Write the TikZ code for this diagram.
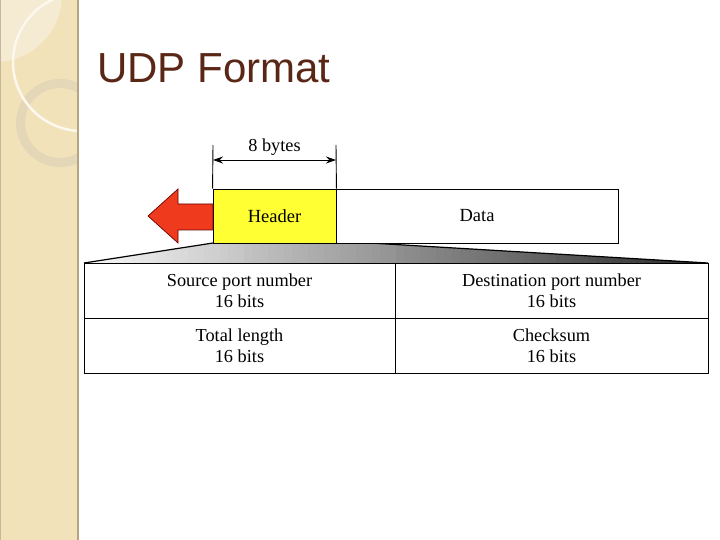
\documentclass[tikz,border=0pt]{standalone}
\usepackage{fontspec}
\setmainfont{Liberation Serif}
\newfontfamily\titlefont{Liberation Sans}
\usetikzlibrary{arrows.meta}
\definecolor{band}{HTML}{F2E2BA}
\definecolor{bandlight}{HTML}{F5EAD2}
\definecolor{bandedge}{HTML}{B5A582}
\definecolor{ringc}{HTML}{E4D7B8}
\definecolor{titlec}{HTML}{5A2616}
\definecolor{hdryellow}{HTML}{FFFF33}
\definecolor{arrowred}{HTML}{F03A1E}
\tikzset{
  cell/.style={draw=black, line width=0.9pt, minimum width=311pt, minimum height=55pt, inner sep=0pt, align=center, font=\fontsize{18.3}{21}\selectfont},
  segbox/.style={draw=black, line width=0.9pt, minimum height=54pt, inner sep=0pt, font=\fontsize{18.5}{21}\selectfont},
  dimline/.style={line width=0.9pt},
}
\begin{document}
\begin{tikzpicture}[x=1pt,y=-1pt]
\useasboundingbox (0,0) rectangle (720,540);
\fill[white] (0,0) rectangle (720,540);
% left band
\begin{scope}
\clip (0,0) rectangle (78,540);
\fill[band] (0,0) rectangle (78,540);
\fill[bandlight] (-5,-5) circle (67);
\draw[ringc, line width=9pt] (60,123) circle (39.5);
\draw[white!75!band, line width=2.5pt] (82,62) circle (69);
\end{scope}
\draw[bandedge, line width=1.5pt] (78,0) -- (78,540);
\draw[bandedge!80, line width=1pt] (0.5,0) -- (0.5,540);
% title
\node[anchor=base west, text=titlec, font=\titlefont\fontsize{42}{48}\selectfont, inner sep=0pt] (title) at (97,83) {UDP Format};
% gradient trapezoid
\begin{scope}
\clip (84,263) -- (213,243) -- (370,243) -- (708,263) -- cycle;
\foreach \i in {0,...,78} {
  \pgfmathsetmacro{\xa}{84+8*\i}
  \pgfmathsetmacro{\pc}{int(3+82*\i/78)}
  \fill[black!\pc] (\xa,240) rectangle ({\xa+8.6},266);
}
\end{scope}
\draw[line width=1.2pt] (84,263) -- (213,243);
\draw[line width=1.2pt] (370,243) -- (708,263);
% header and data
\node[segbox, fill=hdryellow, minimum width=123pt] (hdr) at (274.5,216) {Header};
\node[segbox, fill=white, minimum width=282pt] (data) at (477,216) {Data};
% red arrow
\filldraw[fill=arrowred, draw=red!40!black, line width=0.7pt]
  (213,204) -- (178,204) -- (178,189) -- (148,216) -- (178,243) -- (178,230) -- (213,230) -- cycle;
% dimension
\coordinate (d1) at (213,145);
\coordinate (d2) at (336,145);
\draw[dimline] (d1) -- (hdr.north west);
\draw[dimline] (d2) -- (hdr.north east);
\draw[dimline, {Stealth[length=10pt,width=7pt]}-{Stealth[length=10pt,width=7pt]}] (213,160) -- node[above=4pt, font=\fontsize{18.3}{21}\selectfont, inner sep=0pt] (lbl) {8 bytes} (336,160);
% table
\node[cell] (src) at (239.5,290.5) {Source port number\\16 bits};
\node[cell, minimum width=313pt] (dst) at (551.5,290.5) {Destination port number\\16 bits};
\node[cell] (len) at (239.5,345.5) {Total length\\16 bits};
\node[cell, minimum width=313pt] (chk) at (551.5,345.5) {Checksum\\16 bits};
\end{tikzpicture}
\end{document}
